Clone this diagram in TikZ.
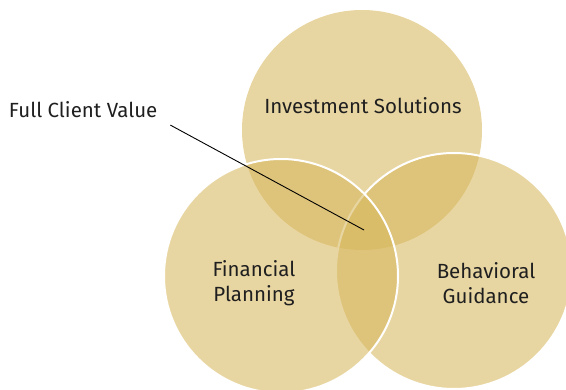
\documentclass[tikz,border=0pt]{standalone}
\usepackage{fontspec}
\setmainfont{Fira Sans}
\usepackage{xcolor}
\definecolor{gold}{RGB}{215,183,92}
\colorlet{inkgray}{black!88}
\tikzstyle{ring}=[fill=gold,fill opacity=0.57]
\tikzstyle{rim}=[ring,draw=white,line width=2]
\tikzstyle{venntext}=[font=\fontsize{20.5}{25}\selectfont,text=inkgray,align=center,inner sep=3]

\begin{document}
\begin{tikzpicture}[x=1pt,y=-1pt]
	\useasboundingbox (0,0) rectangle (566,390);
	% the three circles
	\fill[ring] (362,130) circle (120);
	\filldraw[rim] (454,271) circle (118);
	\filldraw[rim] (281,276) circle (117);
	
	\node[venntext] at (363,106) (invest) {Investment Solutions};
	\node[venntext] at (254,283) (plan) {Financial\\Planning};
	\node[venntext] at (486,283) (guide) {Behavioral\\Guidance};
	\node[venntext,anchor=west,outer sep=4] at (2,110) (fcv) {Full Client Value};
	
	\coordinate (core) at (364,230);
	\draw[line width=0.9] ([xshift=6]fcv.south east) -- (core);
\end{tikzpicture}
\end{document}
